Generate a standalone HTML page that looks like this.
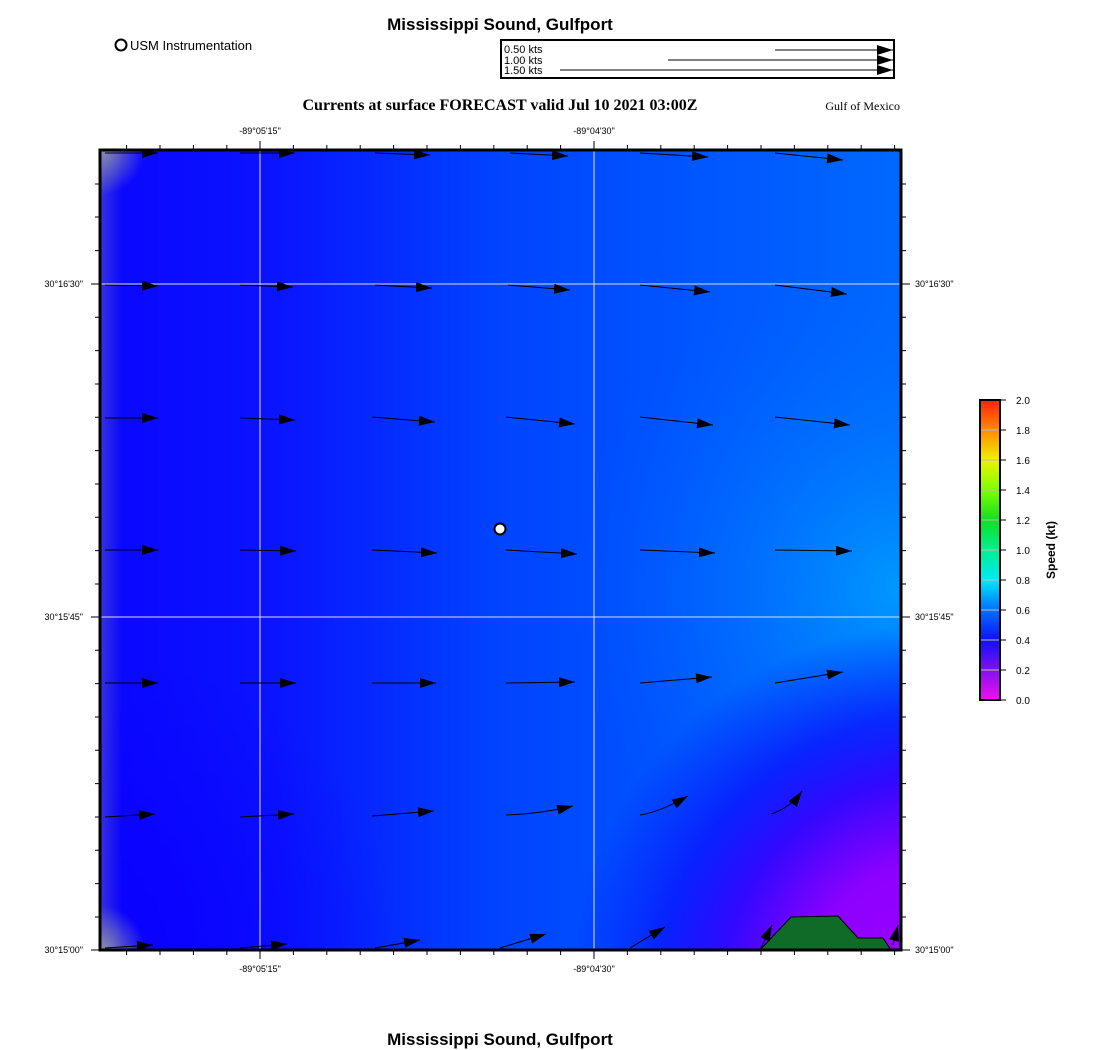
<!DOCTYPE html>
<html><head><meta charset="utf-8"><style>
body{margin:0;background:#fff;width:1100px;height:1050px;overflow:hidden}
svg{display:block}
text{font-family:"Liberation Sans",sans-serif}
</style></head><body>
<svg width="1100" height="1050" viewBox="0 0 1100 1050" xmlns="http://www.w3.org/2000/svg">
<defs>
<linearGradient id="base" x1="100" y1="0" x2="900" y2="0" gradientUnits="userSpaceOnUse">
<stop offset="0" stop-color="#0a06ff"/><stop offset="0.22" stop-color="#0a14ff"/><stop offset="0.5" stop-color="#0044ff"/><stop offset="1" stop-color="#0068ff"/></linearGradient>
<radialGradient id="cyan" cx="900" cy="590" r="330" gradientUnits="userSpaceOnUse">
<stop offset="0" stop-color="#0098ff" stop-opacity="1"/><stop offset="1" stop-color="#0060ff" stop-opacity="0"/></radialGradient>
<radialGradient id="purp" cx="935" cy="990" r="365" gradientUnits="userSpaceOnUse">
<stop offset="0" stop-color="#a000ff"/><stop offset="0.35" stop-color="#8c00ff"/><stop offset="0.58" stop-color="#3208ff"/><stop offset="0.75" stop-color="#0a14ff" stop-opacity="0.8"/><stop offset="1" stop-color="#0818ff" stop-opacity="0"/></radialGradient>
<radialGradient id="bl" cx="100" cy="950" r="300" gradientUnits="userSpaceOnUse">
<stop offset="0" stop-color="#0a00ff"/><stop offset="1" stop-color="#0a00ff" stop-opacity="0"/></radialGradient>
<linearGradient id="gl" x1="100" y1="0" x2="122" y2="0" gradientUnits="userSpaceOnUse">
<stop offset="0" stop-color="#8888aa"/><stop offset="1" stop-color="#8888aa" stop-opacity="0"/></linearGradient>
<radialGradient id="g1" cx="100" cy="150" r="45" gradientUnits="userSpaceOnUse">
<stop offset="0" stop-color="#9090a8"/><stop offset="1" stop-color="#9090a8" stop-opacity="0"/></radialGradient>
<radialGradient id="g2" cx="100" cy="950" r="45" gradientUnits="userSpaceOnUse">
<stop offset="0" stop-color="#9090a8"/><stop offset="1" stop-color="#9090a8" stop-opacity="0"/></radialGradient>
<linearGradient id="cb" x1="0" y1="400" x2="0" y2="700" gradientUnits="userSpaceOnUse">
<stop offset="0" stop-color="#ff2010"/><stop offset="0.1" stop-color="#ff8a00"/><stop offset="0.2" stop-color="#f0f000"/><stop offset="0.3" stop-color="#80ff00"/><stop offset="0.4" stop-color="#10e020"/><stop offset="0.5" stop-color="#00f090"/><stop offset="0.6" stop-color="#00e8f8"/><stop offset="0.7" stop-color="#0070ff"/><stop offset="0.8" stop-color="#1010ff"/><stop offset="0.9" stop-color="#8010f0"/><stop offset="1" stop-color="#f010f0"/></linearGradient>
<marker id="ah" markerUnits="userSpaceOnUse" markerWidth="18" markerHeight="12" refX="16" refY="5" orient="auto"><path d="M0,0 L16,5 L0,10 Z" fill="#000"/></marker>
<clipPath id="pc"><rect x="100" y="150" width="801" height="800"/></clipPath>
</defs>

<text x="500" y="30" font-size="17" font-weight="bold" text-anchor="middle">Mississippi Sound, Gulfport</text>
<circle cx="121" cy="45" r="5.5" fill="#fff" stroke="#000" stroke-width="2"/>
<text x="130" y="50" font-size="13">USM Instrumentation</text>
<rect x="501" y="40" width="393" height="38" fill="#fff" stroke="#000" stroke-width="2"/>
<text x="504" y="53" font-size="11">0.50 kts</text>
<text x="504" y="64" font-size="11">1.00 kts</text>
<text x="504" y="74" font-size="11">1.50 kts</text>
<line x1="775" y1="50" x2="893" y2="50" stroke="#000" marker-end="url(#ah)"/>
<line x1="668" y1="60" x2="893" y2="60" stroke="#000" marker-end="url(#ah)"/>
<line x1="560" y1="70" x2="893" y2="70" stroke="#000" marker-end="url(#ah)"/>
<text x="500" y="110" font-size="16" font-weight="bold" text-anchor="middle" style="font-family:'Liberation Serif',serif">Currents at surface FORECAST  valid Jul 10 2021 03:00Z</text>
<text x="900" y="110" font-size="12" text-anchor="end" style="font-family:'Liberation Serif',serif">Gulf of Mexico</text>

<g clip-path="url(#pc)">
<rect x="100" y="150" width="801" height="800" fill="url(#base)"/>
<rect x="100" y="150" width="801" height="800" fill="url(#cyan)"/>
<rect x="100" y="150" width="801" height="800" fill="url(#bl)"/>
<rect x="100" y="150" width="801" height="800" fill="url(#purp)"/>
<rect x="100" y="150" width="801" height="800" fill="url(#g1)"/>
<rect x="100" y="150" width="801" height="800" fill="url(#g2)"/>
<rect x="100" y="150" width="22" height="800" fill="url(#gl)" opacity="0.35"/>
<g stroke="#ddd" stroke-width="1">
<line x1="260" y1="150" x2="260" y2="950"/><line x1="594" y1="150" x2="594" y2="950"/>
<line x1="100" y1="284" x2="901" y2="284"/><line x1="100" y1="617" x2="901" y2="617"/>
</g>
<polygon points="760,950 791,917 838,916 858,938 883,938 891,950" fill="#106a28" stroke="#000" stroke-width="1"/>
<g stroke="#000" stroke-width="1" fill="none" marker-end="url(#ah)">
<line x1="105" y1="153" x2="158" y2="153"/><line x1="240" y1="153" x2="295" y2="153"/><line x1="375" y1="153" x2="430" y2="155"/><line x1="510" y1="153" x2="568" y2="156"/><line x1="640" y1="153" x2="708" y2="157"/><line x1="775" y1="153" x2="843" y2="160"/>
<line x1="105" y1="285" x2="158" y2="286"/><line x1="240" y1="285" x2="293" y2="287"/><line x1="375" y1="285" x2="432" y2="288"/><line x1="508" y1="285" x2="570" y2="290"/><line x1="640" y1="285" x2="710" y2="292"/><line x1="775" y1="285" x2="847" y2="294"/>
<line x1="105" y1="418" x2="158" y2="418"/><line x1="240" y1="418" x2="295" y2="420"/><line x1="372" y1="417" x2="435" y2="422"/><line x1="506" y1="417" x2="575" y2="424"/><line x1="640" y1="417" x2="713" y2="425"/><line x1="775" y1="417" x2="850" y2="425"/>
<line x1="105" y1="550" x2="158" y2="550"/><line x1="240" y1="550" x2="296" y2="551"/><line x1="372" y1="550" x2="437" y2="553"/><line x1="506" y1="550" x2="577" y2="554"/><line x1="640" y1="550" x2="715" y2="553"/><line x1="775" y1="550" x2="852" y2="551"/>
<line x1="105" y1="683" x2="158" y2="683"/><line x1="240" y1="683" x2="296" y2="683"/><line x1="372" y1="683" x2="436" y2="683"/><line x1="506" y1="683" x2="575" y2="682"/><line x1="640" y1="683" x2="712" y2="677"/><line x1="775" y1="683" x2="843" y2="672"/>
<line x1="105" y1="817" x2="155" y2="814"/><line x1="240" y1="817" x2="294" y2="814"/><line x1="372" y1="816" x2="434" y2="811"/><path d="M506,815 Q540,814 573,806"/><path d="M640,815 Q660,812 688,796"/><path d="M771,814 Q790,808 802,791"/>
<line x1="105" y1="948" x2="153" y2="945"/><line x1="240" y1="948" x2="287" y2="944"/><line x1="375" y1="948" x2="420" y2="940"/><line x1="500" y1="948" x2="546" y2="934"/><line x1="630" y1="948" x2="665" y2="927"/><line x1="760" y1="950" x2="772" y2="925"/><line x1="893" y1="945" x2="898" y2="925"/>
</g>
</g>
<circle cx="500" cy="529" r="5.5" fill="#fff" stroke="#000" stroke-width="2"/>
<rect x="100" y="150" width="801" height="800" fill="none" stroke="#000" stroke-width="3"/>
<g stroke="#000" stroke-width="1">
<path d="M126.6,150v-5M160,150v-5M193.4,150v-5M226.8,150v-5M293.4,150v-5M326.8,150v-5M360.2,150v-5M393.6,150v-5M427,150v-5M460.4,150v-5M493.8,150v-5M527.2,150v-5M560.6,150v-5M627.4,150v-5M660.8,150v-5M694.2,150v-5M727.6,150v-5M761,150v-5M794.4,150v-5M827.8,150v-5M861.2,150v-5M894.6,150v-5"/>
<path d="M126.6,950v5M160,950v5M193.4,950v5M226.8,950v5M293.4,950v5M326.8,950v5M360.2,950v5M393.6,950v5M427,950v5M460.4,950v5M493.8,950v5M527.2,950v5M560.6,950v5M627.4,950v5M660.8,950v5M694.2,950v5M727.6,950v5M761,950v5M794.4,950v5M827.8,950v5M861.2,950v5M894.6,950v5"/>
<path d="M260,150v-9M594,150v-9M260,950v9M594,950v9"/>
<path d="M100,184h-5M100,217h-5M100,250.6h-5M100,317.3h-5M100,350.6h-5M100,384h-5M100,417.3h-5M100,450.6h-5M100,484h-5M100,517.3h-5M100,550.6h-5M100,584h-5M100,650.3h-5M100,683.6h-5M100,717h-5M100,750.3h-5M100,783.6h-5M100,817h-5M100,850.3h-5M100,883.6h-5M100,917h-5"/>
<path d="M901,184h5M901,217h5M901,250.6h5M901,317.3h5M901,350.6h5M901,384h5M901,417.3h5M901,450.6h5M901,484h5M901,517.3h5M901,550.6h5M901,584h5M901,650.3h5M901,683.6h5M901,717h5M901,750.3h5M901,783.6h5M901,817h5M901,850.3h5M901,883.6h5M901,917h5"/>
<path d="M100,284h-9M100,617h-9M100,950h-9M901,284h9M901,617h9M901,950h9"/>
</g>
<g font-size="9">
<text x="260" y="134" text-anchor="middle">-89°05'15"</text>
<text x="594" y="134" text-anchor="middle">-89°04'30"</text>
<text x="260" y="972" text-anchor="middle">-89°05'15"</text>
<text x="594" y="972" text-anchor="middle">-89°04'30"</text>
<text x="83" y="287" text-anchor="end">30°16'30"</text>
<text x="83" y="620" text-anchor="end">30°15'45"</text>
<text x="83" y="953" text-anchor="end">30°15'00"</text>
<text x="915" y="287">30°16'30"</text>
<text x="915" y="620">30°15'45"</text>
<text x="915" y="953">30°15'00"</text>
</g>

<rect x="980" y="400" width="20" height="300" fill="url(#cb)" stroke="#000" stroke-width="2"/>
<g stroke="#bbb" stroke-width="1">
<path d="M981,430h18M981,460h18M981,490h18M981,520h18M981,550h18M981,580h18M981,610h18M981,640h18M981,670h18"/>
</g>
<g stroke="#000"><path d="M1000,400h6M1000,430h6M1000,460h6M1000,490h6M1000,520h6M1000,550h6M1000,580h6M1000,610h6M1000,640h6M1000,670h6M1000,700h6"/></g>
<g font-size="10">
<text x="1016" y="404">2.0</text><text x="1016" y="434">1.8</text><text x="1016" y="464">1.6</text><text x="1016" y="494">1.4</text><text x="1016" y="524">1.2</text><text x="1016" y="554">1.0</text><text x="1016" y="584">0.8</text><text x="1016" y="614">0.6</text><text x="1016" y="644">0.4</text><text x="1016" y="674">0.2</text><text x="1016" y="704">0.0</text>
</g>
<text x="1055" y="550" font-size="12" font-weight="bold" text-anchor="middle" transform="rotate(-90 1055 550)">Speed (kt)</text>

<text x="500" y="1045" font-size="17" font-weight="bold" text-anchor="middle">Mississippi Sound, Gulfport</text>
</svg>
</body></html>
